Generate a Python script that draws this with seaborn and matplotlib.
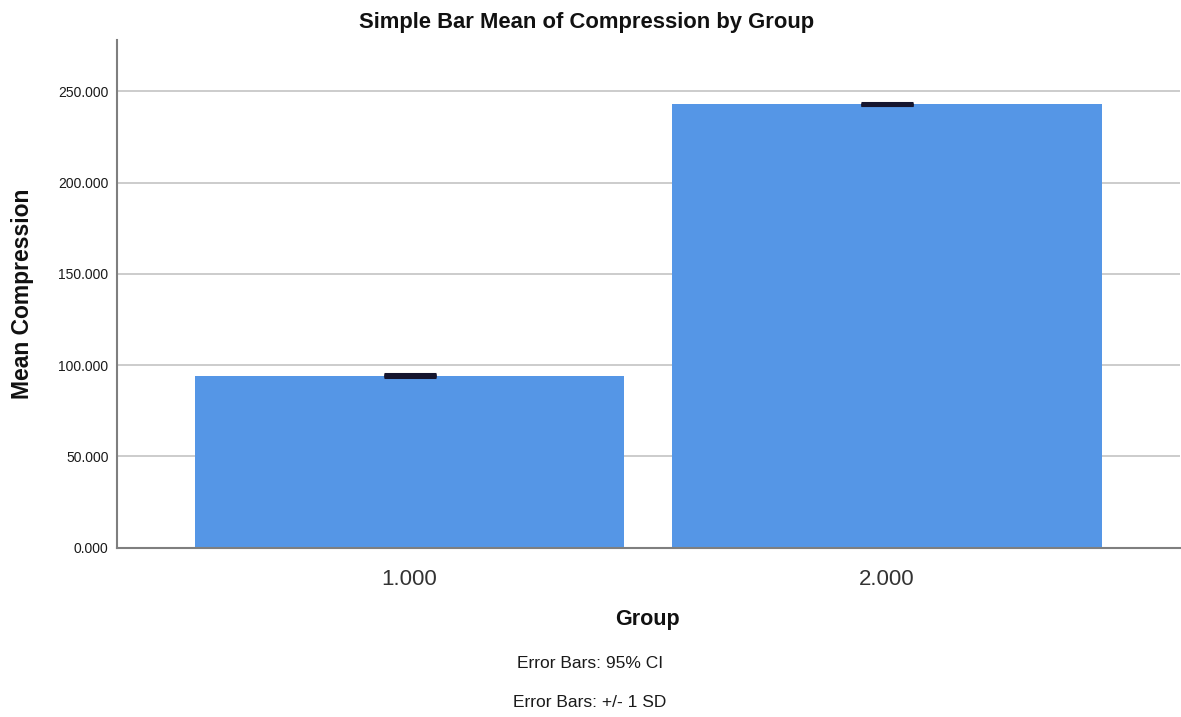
import matplotlib
matplotlib.use("Agg")
import matplotlib.pyplot as plt
import seaborn as sns
import pandas as pd

# Chart data
groups = ["1.000", "2.000"]
mean_compression = [94.3, 242.9]
sd_compression = [0.6, 0.6]
ci_compression = [0.3, 0.3]
y_ticks = [0, 50, 100, 150, 200, 250]

df = pd.DataFrame({"Group": groups, "Mean": mean_compression})

sns.set_theme(style="white")
plt.rcParams["font.family"] = ["Liberation Sans", "DejaVu Sans"]

fig = plt.figure(figsize=(11.81, 7.17), dpi=100)
ax = fig.add_axes([0.099, 0.236, 0.900, 0.708])

sns.barplot(data=df, x="Group", y="Mean", color="#5596E6", saturation=1,
            width=0.9, errorbar=None, linewidth=0, edgecolor="none",
            ax=ax, zorder=2)

# Error bars (95% CI and +/- 1 SD)
ax.errorbar(range(len(groups)), mean_compression, yerr=sd_compression,
            fmt="none", ecolor="#15152e", elinewidth=1.5, capsize=19,
            capthick=2.2, zorder=3)
ax.errorbar(range(len(groups)), mean_compression, yerr=ci_compression,
            fmt="none", ecolor="#15152e", elinewidth=1.5, capsize=19,
            capthick=2.2, zorder=3)

ax.set_xlim(-0.613, 1.613)
ax.set_ylim(0, 278)
ax.set_yticks(y_ticks)
ax.set_yticklabels([f"{v:.3f}" for v in y_ticks], fontsize=10, color="#1a1a1a")
ax.tick_params(axis="x", labelsize=16, colors="#333333", length=0, pad=15)
ax.tick_params(axis="y", length=0, pad=6)

ax.yaxis.grid(True, color="#c4c4c4", linewidth=1.2, zorder=0)
ax.set_axisbelow(True)
for side in ["top", "right"]:
    ax.spines[side].set_visible(False)
for side in ["left", "bottom"]:
    ax.spines[side].set_color("#7f7f7f")
    ax.spines[side].set_linewidth(1.5)

ax.set_xlabel("Group", fontsize=15.5, fontweight="bold", color="#111111",
              va="center")
ax.xaxis.set_label_coords(0.499, -0.142)
ax.set_ylabel("Mean Compression", fontsize=16.5, fontweight="bold",
              color="#111111", va="center")
ax.yaxis.set_label_coords(-0.089, 0.5)

fig.text(0.497, 0.969, "Simple Bar Mean of Compression by Group",
         ha="center", va="center", fontsize=15.8, fontweight="bold",
         color="#111111")

fig.text(0.4996, 0.074, "Error Bars: 95% CI", ha="center", va="center",
         fontsize=12.5, color="#1a1a1a")
fig.text(0.4996, 0.020, "Error Bars: +/- 1 SD", ha="center", va="center",
         fontsize=12.5, color="#1a1a1a")

fig.savefig("out.png", dpi=100, facecolor="white")
